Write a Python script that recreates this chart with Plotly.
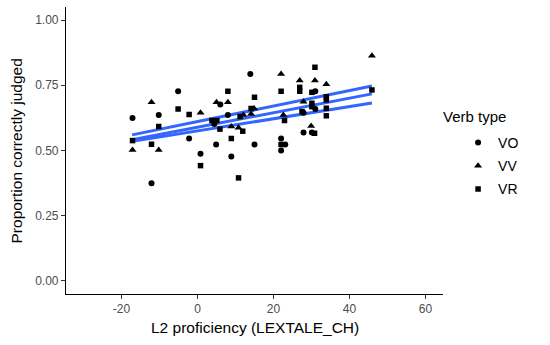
import plotly.graph_objects as go

# Verb type VO (circles)
vo_x = [-17.1, -10.2, -5.1, 6.0, 13.9, 8.0, -2.2, 4.9, 15.0, 8.9, 0.8, -12.1,
        22.0, 23.1, 22.0, 27.9, 30.1, 31.0, 27.9, 4.4, 31.0]
vo_y = [0.625, 0.636, 0.727, 0.676, 0.793, 0.636, 0.546, 0.523, 0.523, 0.477, 0.488, 0.374,
        0.546, 0.523, 0.500, 0.569, 0.569, 0.727, 0.645, 0.602, 0.659]

# Verb type VV (triangles)
vv_x = [-12.1, 0.8, 5.0, 8.0, 22.0, 26.9, 30.9, 33.9, 45.9, -17.1, -10.2, 8.9,
        10.8, 14.1, 14.9, 22.6, 27.9, 29.9, 12.1]
vv_y = [0.685, 0.645, 0.685, 0.685, 0.793, 0.768, 0.768, 0.754, 0.863, 0.502, 0.502, 0.592,
        0.587, 0.640, 0.661, 0.636, 0.687, 0.594, 0.636]

# Verb type VR (squares)
vr_x = [-5.1, -2.2, 8.0, 15.0, 22.0, 26.9, 26.9, 30.9, 30.1, 33.9, 33.9, 45.9,
        30.1, 30.1, 33.9, 33.9, 22.9, -10.2, -17.1, -12.1, 0.8, 8.9, 10.8, 5.9,
        11.9, 3.8, 5.1, 22.0, 30.8, 27.5, 14.1, 11.2]
vr_y = [0.659, 0.638, 0.727, 0.704, 0.727, 0.742, 0.727, 0.819, 0.723, 0.706, 0.694, 0.732,
        0.681, 0.668, 0.662, 0.633, 0.615, 0.592, 0.538, 0.524, 0.442, 0.546, 0.395, 0.582,
        0.574, 0.615, 0.615, 0.523, 0.566, 0.649, 0.661, 0.630]

# fitted regression lines (endpoints)
fit_x = [-17.2, 45.9]
fit_a = [0.560, 0.747]
fit_b = [0.541, 0.717]
fit_c = [0.535, 0.682]

x_ticks = [-20, 0, 20, 40, 60]
x_tick_text = ["-20", "0", "20", "40", "60"]
y_ticks = [0.0, 0.25, 0.5, 0.75, 1.0]
y_tick_text = ["0.00", "0.25", "0.50", "0.75", "1.00"]

fig = go.Figure()
for fy in (fit_a, fit_b, fit_c):
    fig.add_trace(go.Scatter(x=fit_x, y=fy, mode="lines",
                             line=dict(color="#3366FF", width=3),
                             showlegend=False, hoverinfo="skip"))

fig.add_trace(go.Scatter(x=vo_x, y=vo_y, mode="markers", name="VO", legendgroup="VO",
                         marker=dict(symbol="circle", size=6, color="black")))
fig.add_trace(go.Scatter(x=vv_x, y=vv_y, mode="markers", name="VV", legendgroup="VV",
                         marker=dict(symbol="triangle-up", size=7, color="black")))
fig.add_trace(go.Scatter(x=vr_x, y=vr_y, mode="markers", name="VR", legendgroup="VR",
                         marker=dict(symbol="square", size=5.5, color="black")))

fig.update_layout(
    width=550, height=345,
    margin=dict(l=66, r=107, t=7, b=51),
    paper_bgcolor="white", plot_bgcolor="white",
    font=dict(family="Liberation Sans, Arial, sans-serif", color="black"),
    legend=dict(font=dict(size=14), x=1.04, xanchor="left",
                y=(294 - 127) / 287, yanchor="top", itemwidth=30,
                traceorder="grouped", tracegroupgap=2),
    xaxis=dict(range=[-34.6, 64.6], tickvals=x_ticks, ticktext=x_tick_text,
               showgrid=False, zeroline=False, automargin=False,
               showline=True, linecolor="black", linewidth=1.1,
               ticks="outside", ticklen=4, tickcolor="#333333",
               tickfont=dict(size=12, color="#4D4D4D")),
    yaxis=dict(range=[-0.05, 1.05], tickvals=y_ticks, ticktext=y_tick_text,
               showgrid=False, zeroline=False, automargin=False,
               showline=True, linecolor="black", linewidth=1.1,
               ticks="outside", ticklen=4, tickcolor="#333333",
               tickfont=dict(size=12, color="#4D4D4D")),
    annotations=[
        dict(text="L2 proficiency (LEXTALE_CH)", xref="paper", yref="paper",
             x=0.5, y=-0.115, xanchor="center", yanchor="middle",
             showarrow=False, font=dict(size=15.5)),
        dict(text="Proportion correctly judged", xref="paper", yref="paper",
             x=-0.13, y=0.5, xanchor="center", yanchor="middle", textangle=-90,
             showarrow=False, font=dict(size=15.5)),
        dict(text="Verb type", xref="paper", yref="paper",
             x=0.995, y=(294 - 117) / 287, xanchor="left", yanchor="middle",
             showarrow=False, font=dict(size=15)),
    ],
)

fig.write_html("out.html", config={"displayModeBar": False},
               post_script="document.body.style.margin='0';")
